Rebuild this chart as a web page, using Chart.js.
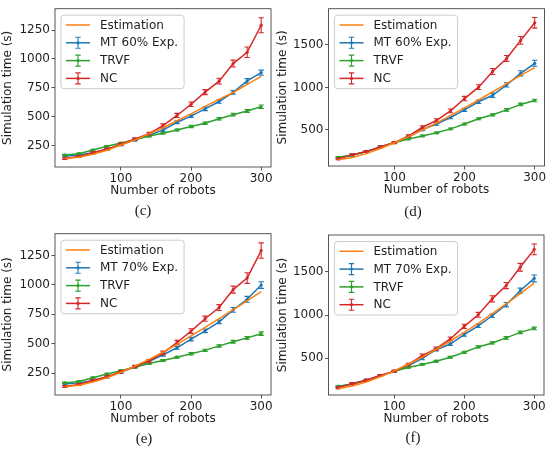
<!DOCTYPE html>
<html>
<head>
<meta charset="utf-8">
<script src="https://cdn.jsdelivr.net/npm/chart.js@4.4.0/dist/chart.umd.min.js"></script>
<style>
    body { margin: 0; background: #fff; width: 550px; height: 451px; position: relative; overflow: hidden; }
    .panel { position: absolute; width: 275px; height: 215px; }
    .tag { position: absolute; font: 15px "Liberation Serif", serif; color: #1a1a1a; transform: translate(-50%, -50%); }
</style>
</head>
<body>
<div class="panel" style="left:0;top:0"><canvas id="pc"></canvas></div>
<div class="panel" style="left:275px;top:0"><canvas id="pd"></canvas></div>
<div class="panel" style="left:0;top:225px"><canvas id="pe"></canvas></div>
<div class="panel" style="left:275px;top:225px"><canvas id="pf"></canvas></div>
<div class="tag" style="left:143px;top:210px">(c)</div>
<div class="tag" style="left:413px;top:211px">(d)</div>
<div class="tag" style="left:144px;top:438px">(e)</div>
<div class="tag" style="left:413px;top:437px">(f)</div>
<script>
"use strict";

// number of robots (x axis)
const robots = [20, 40, 60, 80, 100, 120, 140, 160, 180, 200, 220, 240, 260, 280, 300];
const xTicks = [100, 200, 300];
const yTicksSmall = [250, 500, 750, 1000, 1250];
const yTicksLarge = [500, 1000, 1500];

// scenario used in (c) and (e)
const ncA = [138, 155, 188, 220, 262, 307, 354, 423, 511, 608, 713, 808, 960, 1058, 1292];
const ncAErr = [8, 8, 8, 8, 10, 10, 12, 15, 18, 20, 22, 25, 30, 45, 65];
const trvfA = [168, 180, 212, 244, 272, 300, 333, 358, 386, 416, 444, 482, 518, 550, 586];
const trvfAErr = [6, 6, 6, 6, 6, 6, 8, 8, 8, 10, 10, 10, 12, 12, 15];
const mt60A = [158, 168, 188, 218, 258, 300, 340, 384, 452, 505, 568, 632, 711, 810, 881];
const mt60AErr = [8, 8, 8, 8, 8, 10, 10, 12, 12, 12, 15, 15, 15, 20, 22];
const est60A = [138, 150, 175, 210, 255, 300, 352, 405, 465, 525, 590, 650, 710, 780, 850];
const mt70A = [158, 168, 188, 218, 258, 306, 348, 407, 466, 540, 610, 686, 788, 878, 999];
const mt70AErr = [8, 8, 8, 8, 8, 10, 10, 12, 12, 15, 15, 15, 20, 25, 28];
const est70A = [135, 148, 175, 212, 258, 310, 368, 428, 495, 568, 640, 713, 790, 865, 943];

// scenario used in (d) and (f)
const ncB = [161, 210, 248, 302, 352, 429, 532, 613, 724, 869, 1003, 1187, 1340, 1552, 1758];
const ncBErr = [10, 10, 10, 10, 12, 15, 18, 18, 22, 25, 28, 35, 35, 45, 62];
const trvfB = [179, 205, 245, 300, 350, 395, 430, 467, 513, 570, 632, 678, 736, 800, 846];
const trvfBErr = [8, 8, 8, 8, 8, 10, 10, 10, 10, 12, 12, 12, 15, 15, 15];
const mt60B = [172, 205, 248, 302, 352, 417, 506, 570, 647, 736, 831, 908, 1030, 1165, 1283];
const mt60BErr = [10, 10, 10, 10, 10, 12, 15, 15, 15, 18, 20, 25, 25, 30, 35];
const est60B = [150, 178, 222, 282, 350, 422, 500, 582, 668, 760, 852, 948, 1045, 1140, 1233];
const mt70B = [172, 205, 248, 302, 349, 415, 499, 600, 665, 773, 876, 992, 1119, 1281, 1423];
const mt70BErr = [10, 10, 10, 10, 10, 12, 15, 15, 15, 18, 20, 20, 25, 30, 40];
const est70B = [150, 180, 228, 288, 355, 432, 515, 605, 700, 800, 905, 1015, 1130, 1248, 1369];

const C_ORANGE = "#ff7f0e";
const C_BLUE = "#1f77b4";
const C_GREEN = "#2ca02c";
const C_RED = "#d62728";
const TEXT = "#1f1f1f";
const AXIS = "#444444";
const FONT = { family: "'DejaVu Sans', sans-serif", size: 12 };
const CANVAS_H = 215;

Chart.defaults.font.family = FONT.family;
Chart.defaults.font.size = FONT.size;
Chart.defaults.color = TEXT;

const points = arr => robots.map((x, i) => ({ x, y: arr[i] }));

// vertical error bars with caps, drawn right after their own line
const errorBars = {
    id: "errorBars",
    afterDatasetDraw (chart, args) {
        const ds = chart.data.datasets[args.index];
        if (!ds.errors) {
            return;
        }
        const ctx = chart.ctx, yScale = chart.scales.y, cap = 2.7;

        ctx.save();
        ctx.strokeStyle = ds.borderColor;
        ctx.lineWidth = 1.1;
        args.meta.data.forEach((pt, i) => {
            const v = ds.data[i].y, e = ds.errors[i],
                y1 = yScale.getPixelForValue(v - e),
                y2 = yScale.getPixelForValue(v + e);
            ctx.beginPath();
            ctx.moveTo(pt.x, y1);
            ctx.lineTo(pt.x, y2);
            ctx.moveTo(pt.x - cap, y1);
            ctx.lineTo(pt.x + cap, y1);
            ctx.moveTo(pt.x - cap, y2);
            ctx.lineTo(pt.x + cap, y2);
            ctx.stroke();
        });
        ctx.restore();
    }
};

// axes box
const frame = {
    id: "frame",
    afterDraw (chart) {
        const a = chart.chartArea, ctx = chart.ctx;
        ctx.save();
        ctx.strokeStyle = AXIS;
        ctx.lineWidth = 0.9;
        ctx.strokeRect(a.left, a.top, a.right - a.left, a.bottom - a.top);
        ctx.restore();
    }
};

// matplotlib-like legend in the upper left corner of the axes
const insetLegend = {
    id: "insetLegend",
    afterDraw (chart) {
        const ctx = chart.ctx, a = chart.chartArea, sets = chart.data.datasets;
        ctx.save();
        ctx.font = `${FONT.size}px ${FONT.family}`;
        const textW = Math.max(...sets.map(d => ctx.measureText(d.label).width));
        const bx = a.left + 6, by = a.top + 6.5, bw = 39 + textW + 6, bh = 73.5;

        ctx.beginPath();
        ctx.roundRect(bx, by, bw, bh, 3);
        ctx.fillStyle = "rgba(255,255,255,0.8)";
        ctx.fill();
        ctx.strokeStyle = "#cccccc";
        ctx.lineWidth = 1;
        ctx.stroke();

        sets.forEach((d, i) => {
            const cy = by + 9.8 + i * 17.8, hx = bx + 17;
            ctx.strokeStyle = d.borderColor;
            ctx.lineWidth = 1.5;
            ctx.beginPath();
            ctx.moveTo(bx + 5, cy);
            ctx.lineTo(bx + 29, cy);
            ctx.stroke();
            if (d.errors) {
                ctx.lineWidth = 1.1;
                ctx.beginPath();
                ctx.moveTo(hx, cy - 5.5);
                ctx.lineTo(hx, cy + 5.5);
                ctx.moveTo(hx - 2.7, cy - 5.5);
                ctx.lineTo(hx + 2.7, cy - 5.5);
                ctx.moveTo(hx - 2.7, cy + 5.5);
                ctx.lineTo(hx + 2.7, cy + 5.5);
                ctx.stroke();
                ctx.fillStyle = d.borderColor;
                ctx.beginPath();
                ctx.arc(hx, cy, 1.6, 0, Math.PI * 2);
                ctx.fill();
            }
            ctx.fillStyle = TEXT;
            ctx.textBaseline = "middle";
            ctx.textAlign = "left";
            ctx.fillText(d.label, bx + 39, cy + 0.5);
        });
        ctx.restore();
    }
};

function series (label, values, color, order, errors) {
    return {
        label,
        data: points(values),
        errors,
        order,
        borderColor: color,
        backgroundColor: color,
        borderWidth: 1.5,
        pointRadius: errors ? 1.6 : 0,
        pointBorderWidth: 0,
        tension: 0
    };
}

function makePanel (id, cfg) {
    const area = cfg.area;
    return new Chart(document.getElementById(id), {
        type: "line",
        data: {
            datasets: [
                series("Estimation", cfg.est, C_ORANGE, 0),
                series(cfg.mtLabel, cfg.mt, C_BLUE, 3, cfg.mtErr),
                series("TRVF", cfg.trvf, C_GREEN, 2, cfg.trvfErr),
                series("NC", cfg.nc, C_RED, 1, cfg.ncErr)
            ]
        },
        options: {
            responsive: true,
            maintainAspectRatio: false,
            animation: false,
            events: [],
            layout: {
                padding: { left: 0, top: area.top, right: 275 - area.right, bottom: CANVAS_H - area.bottom - 34 }
            },
            plugins: {
                legend: { display: false },
                tooltip: { enabled: false }
            },
            scales: {
                x: {
                    type: "linear",
                    min: 6,
                    max: 314,
                    afterBuildTicks: s => { s.ticks = xTicks.map(value => ({ value })); },
                    afterFit: s => { s.height = 34; },
                    grid: { drawOnChartArea: false, tickLength: 3.5, color: AXIS, tickWidth: 0.9 },
                    border: { display: false },
                    ticks: { font: FONT, color: TEXT, padding: 1.5, maxRotation: 0, autoSkip: false, callback: v => String(v) },
                    title: { display: true, text: "Number of robots", font: FONT, color: TEXT, padding: { top: 0, bottom: 3.3 } }
                },
                y: {
                    type: "linear",
                    min: cfg.yMin,
                    max: cfg.yMax,
                    afterBuildTicks: s => { s.ticks = cfg.yTicks.map(value => ({ value })); },
                    afterFit: s => { s.width = area.left; },
                    grid: { drawOnChartArea: false, tickLength: 3.5, color: AXIS, tickWidth: 0.9 },
                    border: { display: false },
                    ticks: { font: FONT, color: TEXT, padding: 1.5, autoSkip: false, callback: v => String(v) },
                    title: { display: true, text: "Simulation time (s)", font: FONT, color: TEXT, padding: { top: 1.1, bottom: 0 } }
                }
            }
        },
        plugins: [errorBars, frame, insetLegend]
    });
}

makePanel("pc", {
    mtLabel: "MT 60% Exp.", mt: mt60A, mtErr: mt60AErr, est: est60A,
    trvf: trvfA, trvfErr: trvfAErr, nc: ncA, ncErr: ncAErr,
    yMin: 65, yMax: 1435, yTicks: yTicksSmall,
    area: { left: 55, right: 271, top: 6, bottom: 167 }
});

makePanel("pd", {
    mtLabel: "MT 60% Exp.", mt: mt60B, mtErr: mt60BErr, est: est60B,
    trvf: trvfB, trvfErr: trvfBErr, nc: ncB, ncErr: ncBErr,
    yMin: 77, yMax: 1924, yTicks: yTicksLarge,
    area: { left: 53.5, right: 269.5, top: 6, bottom: 166 }
});

makePanel("pe", {
    mtLabel: "MT 70% Exp.", mt: mt70A, mtErr: mt70AErr, est: est70A,
    trvf: trvfA, trvfErr: trvfAErr, nc: ncA, ncErr: ncAErr,
    yMin: 65, yMax: 1435, yTicks: yTicksSmall,
    area: { left: 55, right: 271, top: 8, bottom: 170 }
});

makePanel("pf", {
    mtLabel: "MT 70% Exp.", mt: mt70B, mtErr: mt70BErr, est: est70B,
    trvf: trvfB, trvfErr: trvfBErr, nc: ncB, ncErr: ncBErr,
    yMin: 77, yMax: 1924, yTicks: yTicksLarge,
    area: { left: 53.5, right: 269, top: 10, bottom: 170 }
});
</script>
</body>
</html>
